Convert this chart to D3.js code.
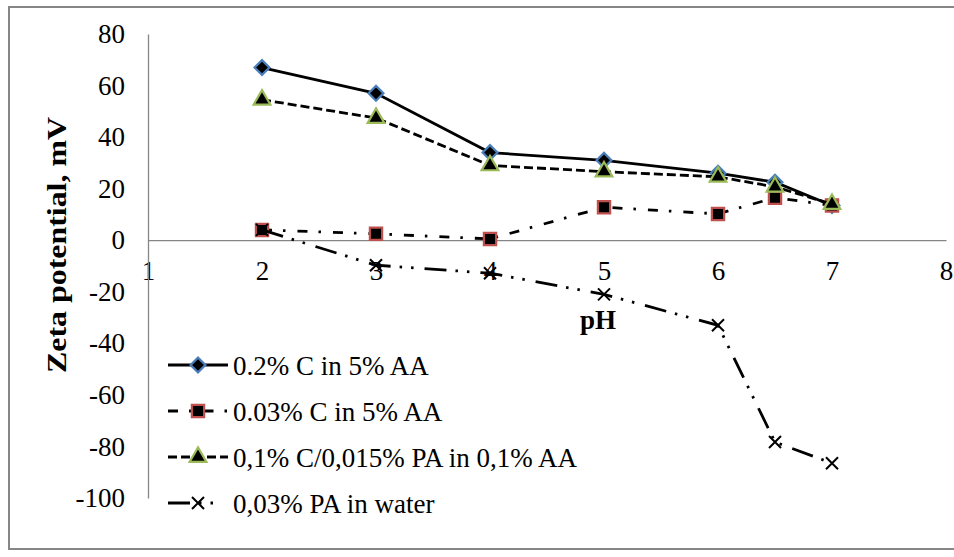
<!DOCTYPE html>
<html>
<head>
<meta charset="utf-8">
<script src="https://cdn.jsdelivr.net/npm/d3@7"></script>
<style>
    body { margin: 0; background: #fff; }
    svg { display: block; }
    svg text { font-family: "Liberation Serif", "DejaVu Serif", serif !important; fill: #000; }
</style>
</head>
<body>
<svg id="chart" width="954" height="557"></svg>
<script>
// pH values where zeta potential was measured
const phValues = [2, 3, 4, 5, 6, 6.5, 7];

const seriesNames = [
    "0.2% C in 5% AA",
    "0.03% C in 5% AA",
    "0,1% C/0,015% PA in 0,1% AA",
    "0,03% PA in water"
];

// zeta potential, mV
const c02InAA = [67, 57, 34, 31, 26, 22.5, 13.5];
const c003InAA = [4, 2.5, 0.5, 12.8, 10.2, 16.5, 13.5];
const c01Pa0015 = [54.5, 47.4, 29, 26.6, 24.6, 20.7, 14];
const paInWater = [4, -9.7, -12.8, -21, -33, -78.3, -86.5];

const xTickLabels = [1, 2, 3, 4, 5, 6, 7, 8];
const yTickLabels = [80, 60, 40, 20, 0, -20, -40, -60, -80, -100];

const svg = d3.select("#chart");

// outer frame
svg.append("rect")
    .attr("x", 9).attr("y", 7)
    .attr("width", 960).attr("height", 542)
    .attr("fill", "none")
    .attr("stroke", "#868686")
    .attr("stroke-width", 2);

const x = d3.scaleLinear().domain([1, 8]).range([148, 946]);
const y = d3.scaleLinear().domain([-100, 80]).range([498, 34]);

// axes, hyphen minus like the original
let xAxis = svg.append("g")
    .attr("transform", `translate(0,${y(0)})`)
    .call(d3.axisBottom(x).tickValues(xTickLabels).tickSize(0).tickPadding(21).tickFormat(d => "" + d));
let yAxis = svg.append("g")
    .attr("transform", `translate(${x(1)},0)`)
    .call(d3.axisLeft(y).tickValues(yTickLabels).tickSize(0).tickPadding(23).tickFormat(d => "" + d));

[xAxis, yAxis].forEach(ax => {
    ax.attr("font-family", null);
    ax.select(".domain").attr("stroke", "#868686").attr("stroke-width", 1.3);
    ax.selectAll("text")
        .attr("font-size", 27)
        .attr("fill", "#000");
});

// axis titles
svg.append("text")
    .attr("transform", "translate(66,245) rotate(-90)")
    .attr("text-anchor", "middle")
    .attr("font-size", 28)
    .attr("font-weight", "bold")
    .attr("textLength", 256)
    .attr("lengthAdjust", "spacingAndGlyphs")
    .text("Zeta potential, mV");

svg.append("text")
    .attr("x", 598).attr("y", 329)
    .attr("text-anchor", "middle")
    .attr("font-size", 27)
    .attr("font-weight", "bold")
    .text("pH");

// marker shapes
const diamond = d3.symbol().type(d3.symbolSquare).size(110)();
const square = d3.symbol().type(d3.symbolSquare).size(150)();
const triangle = d3.symbol().type(d3.symbolTriangle).size(120)();
const cross = "M-6,-6L6,6M-6,6L6,-6";

const series = [
    { name: seriesNames[0], values: c02InAA, dash: null, marker: diamond, rotate: 45, fill: "#000", stroke: "#4a7ebb" },
    { name: seriesNames[1], values: c003InAA, dash: "10,11,2.5,12", marker: square, rotate: 0, fill: "#000", stroke: "#c0504d" },
    { name: seriesNames[2], values: c01Pa0015, dash: "9,4", marker: triangle, rotate: 0, fill: "#000", stroke: "#9bbb59" },
    { name: seriesNames[3], values: paInWater, dash: "22,9,2.5,9,2.5,11", marker: cross, rotate: 0, fill: "none", stroke: "#000" }
];

const line = d3.line()
    .x(d => x(d.ph))
    .y(d => y(d.v));

function drawMarker(g, s, px, py) {
    g.append("path")
        .attr("d", s.marker)
        .attr("transform", `translate(${px},${py}) rotate(${s.rotate})`)
        .attr("fill", s.fill)
        .attr("stroke", s.stroke)
        .attr("stroke-width", s.fill === "none" ? 2 : 2.2);
}

series.forEach(s => {
    let pts = phValues.map((ph, i) => ({ ph: ph, v: s.values[i] }));
    let g = svg.append("g");
    g.append("path")
        .datum(pts)
        .attr("d", line)
        .attr("fill", "none")
        .attr("stroke", "#000")
        .attr("stroke-width", 2.8)
        .attr("stroke-dasharray", s.dash);
    pts.forEach(p => drawMarker(g, s, x(p.ph), y(p.v)));
});

// legend
const legendRows = [365, 411, 457, 503];
series.forEach((s, i) => {
    let g = svg.append("g");
    let ly = legendRows[i];
    g.append("line")
        .attr("x1", 168).attr("x2", i === 3 ? 220 : 228)
        .attr("y1", ly).attr("y2", ly)
        .attr("stroke", "#000")
        .attr("stroke-width", 2.8)
        .attr("stroke-dasharray", s.dash);
    drawMarker(g, s, 198, ly);
    g.append("text")
        .attr("x", 233).attr("y", ly + 10)
        .attr("font-size", 27)
        .text(s.name);
});
</script>
</body>
</html>
